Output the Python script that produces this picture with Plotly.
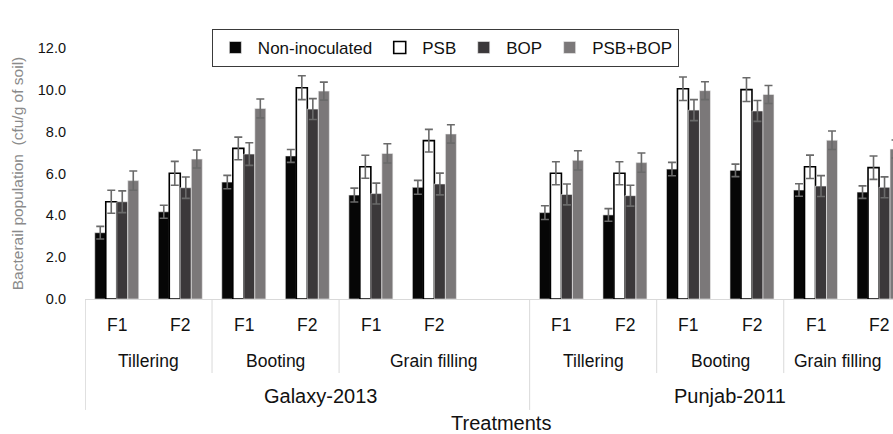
import plotly.graph_objects as go

# Category layout (index 6 is the empty slot after Galaxy "Grain filling")
x_pos = [0, 1, 2, 3, 4, 5, 7, 8, 9, 10, 11, 12]
f_labels = ["F1", "F2", "F1", "F2", "F1", "F2", "F1", "F2", "F1", "F2", "F1", "F2"]
stages = ["Tillering", "Booting", "Grain filling", "Tillering", "Booting", "Grain filling"]
stage_centers = [0.5, 2.5, 5, 7.5, 9.5, 11.36]
cultivars = ["Galaxy-2013", "Punjab-2011"]
cultivar_centers = [3.2, 9.66]

series_names = ["Non-inoculated", "PSB", "BOP", "PSB+BOP"]
non_inoculated = [3.17, 4.17, 5.59, 6.84, 4.97, 5.34, 4.13, 4.02, 6.21, 6.15, 5.21, 5.11]
psb = [4.65, 6.01, 7.20, 10.10, 6.32, 7.57, 6.01, 6.01, 10.05, 10.01, 6.32, 6.28]
bop = [4.65, 5.32, 6.93, 9.08, 5.04, 5.50, 5.00, 4.94, 9.03, 8.99, 5.40, 5.34]
psb_bop = [5.66, 6.69, 9.11, 9.94, 6.96, 7.89, 6.63, 6.52, 9.96, 9.78, 7.59, 7.17]

err_ni = [0.30, 0.31, 0.32, 0.31, 0.33, 0.33, 0.33, 0.30, 0.32, 0.30, 0.30, 0.30]
err_psb = [0.55, 0.57, 0.54, 0.57, 0.55, 0.54, 0.55, 0.55, 0.56, 0.57, 0.56, 0.56]
err_bop = [0.52, 0.51, 0.54, 0.50, 0.50, 0.52, 0.50, 0.50, 0.50, 0.50, 0.50, 0.50]
err_pb = [0.46, 0.43, 0.45, 0.43, 0.46, 0.44, 0.46, 0.46, 0.43, 0.43, 0.44, 0.43]

values = [non_inoculated, psb, bop, psb_bop]
errors = [err_ni, err_psb, err_bop, err_pb]
fills = ["#060606", "#ffffff", "#3b383a", "#7b7879"]
edges = ["#f0f0f0", "#000000", "#f0f0f0", "#f0f0f0"]
edge_w = [0.6, 1.6, 0.6, 0.6]

FONT = "Liberation Sans, Arial, sans-serif"

fig = go.Figure()
for name, v, e, fc, ec, ew in zip(series_names, values, errors, fills, edges, edge_w):
    fig.add_trace(go.Bar(
        x=x_pos, y=v, name=name,
        marker=dict(color=fc, line=dict(color=ec, width=ew)),
        error_y=dict(type="data", array=e, visible=True, color="#6a6a6a", thickness=1.6, width=4),
    ))

annotations = []
for xp, lab in zip(x_pos, f_labels):
    annotations.append(dict(x=xp, y=-0.102, xref="x", yref="paper", text=lab, showarrow=False,
                            yanchor="middle", font=dict(size=17.5, color="#111111", family=FONT)))
for xc, lab in zip(stage_centers, stages):
    annotations.append(dict(x=xc, y=-0.247, xref="x", yref="paper", text=lab, showarrow=False,
                            yanchor="middle", font=dict(size=17.5, color="#111111", family=FONT)))
for xc, lab in zip(cultivar_centers, cultivars):
    annotations.append(dict(x=xc, y=-0.386, xref="x", yref="paper", text=lab, showarrow=False,
                            yanchor="middle", font=dict(size=20, color="#111111", family=FONT)))
annotations.append(dict(x=6.05, y=-0.494, xref="x", yref="paper", text="Treatments", showarrow=False,
                        yanchor="middle", font=dict(size=20, color="#111111", family=FONT)))

shapes = []
long_div = [-0.495, 6.5]
short_div = [1.5, 3.5, 8.5, 10.5]
for xd in long_div:
    shapes.append(dict(type="line", xref="x", yref="paper", x0=xd, x1=xd, y0=0, y1=-0.442,
                       line=dict(color="#d9d9d9", width=1)))
for xd in short_div:
    shapes.append(dict(type="line", xref="x", yref="paper", x0=xd, x1=xd, y0=0, y1=-0.295,
                       line=dict(color="#d9d9d9", width=1)))

fig.update_layout(
    width=893, height=434,
    margin=dict(l=85, r=0, t=48, b=135, autoexpand=False),
    paper_bgcolor="white", plot_bgcolor="white",
    barmode="group", bargap=0.307, bargroupgap=0,
    font=dict(family=FONT, color="#111111"),
    showlegend=True,
    legend=dict(orientation="h", x=0.157, y=1.076, xanchor="left", yanchor="top",
                bordercolor="#3a3a3a", borderwidth=1, bgcolor="white",
                font=dict(size=17, family=FONT, color="#111111"),
                itemwidth=35, tracegroupgap=0),
    annotations=annotations,
    shapes=shapes,
)
fig.update_xaxes(range=[-0.5, 12.22], showticklabels=False, showgrid=False, zeroline=False,
                 showline=True, linecolor="#d9d9d9", linewidth=1, ticks="")
fig.update_yaxes(range=[0, 12], tickvals=[0, 2, 4, 6, 8, 10, 12],
                 ticktext=["0.0", "2.0", "4.0", "6.0", "8.0", "10.0", "12.0"],
                 showgrid=False, zeroline=False, showline=False, ticks="",
                 ticklabelstandoff=18, automargin=False,
                 tickfont=dict(size=14.5, color="#111111", family=FONT),
                 title=dict(text="Bacterail population  (cfu/g of soil)", standoff=10,
                            font=dict(size=15.5, color="#8a8a8a", family=FONT)))

fig.write_html("out.html", config={"displayModeBar": False},
               post_script="document.body.style.margin='0';document.body.style.overflow='hidden';")
